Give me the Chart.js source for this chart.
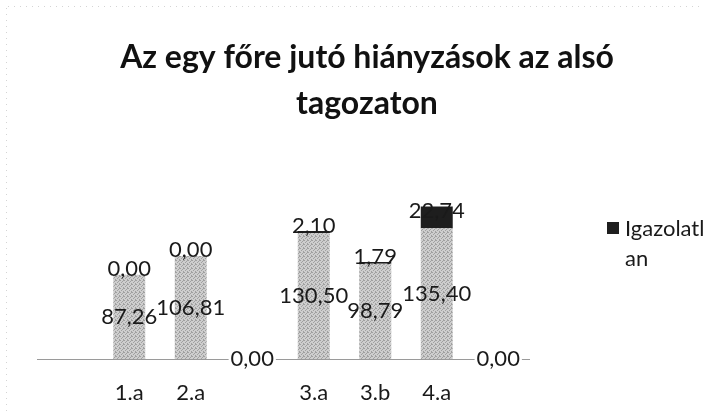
<!DOCTYPE html>
<html>
<head>
<meta charset="utf-8">
<script src="https://cdn.jsdelivr.net/npm/chart.js@4/dist/chart.umd.min.js"></script>
<style>
  html, body { margin: 0; padding: 0; background: #fff; }
  #wrap { position: relative; width: 712px; height: 412px; }
</style>
</head>
<body>
<div id="wrap"><canvas id="hianyzasChart" width="712" height="412"></canvas></div>
<script>
// adatok
const categories = ['', '1.a', '2.a', '', '3.a', '3.b', '4.a', ''];
const igazolt = [null, 87.26, 106.81, 0, 130.50, 98.79, 135.40, 0];
const igazolatlan = [null, 0, 0, null, 2.10, 1.79, 22.74, null];
const titleLines = ['Az egy főre jutó hiányzások az alsó', 'tagozaton'];

const fmt = v => v.toFixed(2).replace('.', ',');

// pontozott szürke minta a szkennelt oszlopokhoz
function makePattern(light, dark) {
    const c = document.createElement('canvas');
    c.width = 4; c.height = 4;
    const g = c.getContext('2d');
    g.fillStyle = light;
    g.fillRect(0, 0, 4, 4);
    g.fillStyle = dark;
    [[0, 0], [2, 1], [1, 2], [3, 3], [3, 0]].forEach(p => g.fillRect(p[0], p[1], 1, 1));
    return g.createPattern(c, 'repeat');
}

const labelsPlugin = {
    id: 'labels',
    afterDatasetsDraw(chart) {
        const ctx = chart.ctx;
        ctx.save();
        ctx.font = '22px Lato';
        ctx.textAlign = 'center';
        ctx.textBaseline = 'middle';
        chart.data.datasets.forEach((ds, i) => {
            const meta = chart.getDatasetMeta(i);
            meta.data.forEach((bar, j) => {
                const v = ds.data[j];
                if (v === null || v === undefined) return;
                const p = bar.getProps(['x', 'y', 'base'], true);
                let cy = (p.y + p.base) / 2;
                if (i === 1) cy -= 6;
                const t = fmt(v);
                if (i === 0 && v === 0) {
                    const w = ctx.measureText(t).width;
                    ctx.fillStyle = '#fff';
                    ctx.fillRect(p.x - w / 2 - 2, cy - 10, w + 4, 20);
                }
                ctx.fillStyle = '#1a1a1a';
                ctx.fillText(t, p.x, cy);
            });
        });
        ctx.restore();
    }
};

const titlePlugin = {
    id: 'excelTitle',
    afterDraw(chart) {
        const ctx = chart.ctx;
        ctx.save();
        ctx.font = 'bold 32px Lato';
        ctx.fillStyle = '#111';
        ctx.textAlign = 'center';
        ctx.textBaseline = 'alphabetic';
        ctx.fillText(titleLines[0], 367, 68);
        ctx.fillText(titleLines[1], 367, 114);
        ctx.restore();
    }
};

const legendPlugin = {
    id: 'wrapLegend',
    afterDraw(chart) {
        const ctx = chart.ctx;
        const ds = chart.data.datasets[1];
        ctx.save();
        ctx.fillStyle = ds.backgroundColor;
        ctx.fillRect(607, 222, 12, 12);
        ctx.font = '22px Lato';
        ctx.fillStyle = '#1a1a1a';
        ctx.textBaseline = 'middle';
        // tördelés a rendelkezésre álló szélességre, mint az Excelben
        const maxW = 712 - 625;
        let lines = [], cur = '';
        for (const ch of ds.label) {
            if (ctx.measureText(cur + ch).width > maxW && cur) {
                lines.push(cur);
                cur = ch;
            } else {
                cur += ch;
            }
        }
        lines.push(cur);
        lines.forEach((l, k) => ctx.fillText(l, 625, 229 + k * 30));
        // halvány keret nyomai
        ctx.strokeStyle = '#d4d4d4';
        ctx.setLineDash([1, 5]);
        ctx.beginPath();
        ctx.moveTo(6.5, 8); ctx.lineTo(6.5, 412);
        ctx.moveTo(8, 6.5); ctx.lineTo(700, 6.5);
        ctx.stroke();
        ctx.restore();
    }
};

const ctx = document.getElementById('hianyzasChart').getContext('2d');
const hianyzasChart = new Chart(ctx, {
    type: 'bar',
    data: {
        labels: categories,
        datasets: [{
            label: 'Igazolt',
            data: igazolt,
            backgroundColor: makePattern('#cecece', '#a0a0a0'),
            borderWidth: 0
        }, {
            label: 'Igazolatlan',
            data: igazolatlan,
            backgroundColor: '#1e1e1e',
            borderWidth: 0
        }]
    },
    options: {
        responsive: false,
        animation: false,
        layout: { padding: { top: 166, left: 37, right: 183, bottom: 7 } },
        datasets: { bar: { categoryPercentage: 1, barPercentage: 0.52 } },
        plugins: {
            legend: { display: false },
            title: { display: false },
            tooltip: { enabled: false }
        },
        scales: {
            x: {
                stacked: true,
                grid: { display: false, drawTicks: false },
                border: { display: true, color: '#9a9a9a', dash: [2, 2], width: 1 },
                ticks: { color: '#1a1a1a', font: { family: 'Lato', size: 22 }, padding: 21, maxRotation: 0, autoSkip: false },
                afterFit(scale) { scale.height = 46; }
            },
            y: {
                stacked: true,
                display: false,
                min: 0,
                max: 200
            }
        }
    },
    plugins: [labelsPlugin, titlePlugin, legendPlugin]
});
</script>
</body>
</html>
